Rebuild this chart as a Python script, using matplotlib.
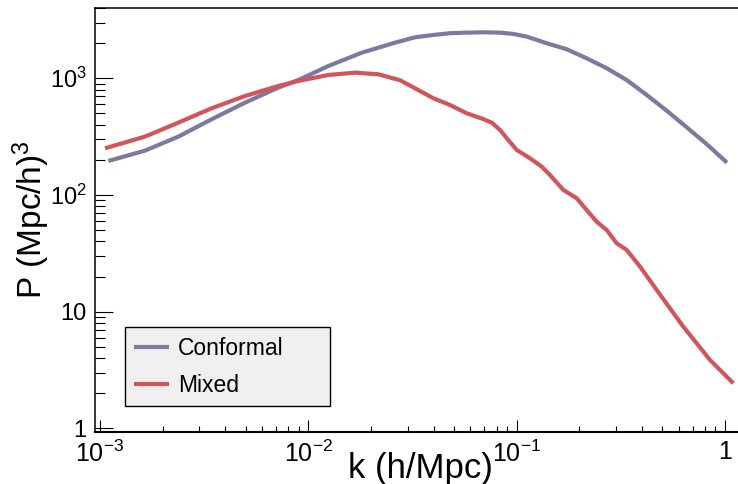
import numpy as np
import matplotlib
matplotlib.use("Agg")
import matplotlib.pyplot as plt
from matplotlib.ticker import FixedLocator, FixedFormatter, LogLocator, NullFormatter

plt.rcParams['font.family'] = ['Liberation Sans', 'DejaVu Sans']
plt.rcParams['mathtext.fontset'] = 'custom'
plt.rcParams['mathtext.rm'] = 'Liberation Sans'
plt.rcParams['mathtext.it'] = 'Liberation Sans:italic'

logk_conformal = [-2.960, -2.784, -2.624, -2.464, -2.304, -2.144, -2.048, -1.904,
                  -1.744, -1.584, -1.488, -1.400, -1.320, -1.240, -1.160, -1.080,
                  -1.016, -0.952, -0.856, -0.760, -0.664, -0.568, -0.472, -0.376,
                  -0.280, -0.184, -0.088, 0.009]
logp_conformal = [2.291, 2.380, 2.500, 2.649, 2.791, 2.920, 2.985, 3.105,
                  3.219, 3.305, 3.351, 3.371, 3.386, 3.391, 3.394, 3.391,
                  3.380, 3.357, 3.300, 3.249, 3.171, 3.086, 2.985, 2.857,
                  2.722, 2.580, 2.436, 2.277]

logk_mixed = [-2.976, -2.784, -2.624, -2.464, -2.304, -2.144, -2.048, -1.904,
              -1.776, -1.664, -1.560, -1.488, -1.400, -1.320, -1.240, -1.160,
              -1.120, -1.080, -1.040, -1.000, -0.936, -0.880, -0.840, -0.776,
              -0.712, -0.664, -0.616, -0.568, -0.520, -0.472, -0.408, -0.328,
              -0.200, -0.072, 0.040]
logp_mixed = [2.400, 2.500, 2.620, 2.743, 2.848, 2.934, 2.977, 3.028,
              3.048, 3.034, 2.983, 2.914, 2.829, 2.771, 2.700, 2.650,
              2.620, 2.557, 2.470, 2.386, 2.314, 2.243, 2.171, 2.043,
              1.972, 1.871, 1.771, 1.700, 1.586, 1.529, 1.386, 1.186,
              0.871, 0.586, 0.386]

labels = ['Conformal', 'Mixed']
colors = ['#7b7b9f', '#d0565b']

x_ticks = [1e-3, 1e-2, 1e-1, 1]
x_ticklabels = ['$10^{-3}$', '$10^{-2}$', '$10^{-1}$', '1']
y_ticks = [1, 10, 100, 1000]
y_ticklabels = ['1', '10', '$10^{2}$', '$10^{3}$']

fig = plt.figure(figsize=(7.38, 4.84), dpi=100)
ax = fig.add_axes([95 / 738, 52 / 484, 645 / 738, 424 / 484])

series = [(logk_conformal, logp_conformal), (logk_mixed, logp_mixed)]
for (lk, lp), lab, col in zip(series, labels, colors):
    ax.plot(10 ** np.array(lk), 10 ** np.array(lp), color=col, lw=3.0, label=lab,
            solid_joinstyle='round', solid_capstyle='butt')

ax.set_xscale('log')
ax.set_yscale('log')
ax.set_xlim(9.46e-4, 1.18)
ax.set_ylim(0.931, 4000)

ax.xaxis.set_major_locator(FixedLocator(x_ticks))
ax.xaxis.set_major_formatter(FixedFormatter(x_ticklabels))
ax.yaxis.set_major_locator(FixedLocator(y_ticks))
ax.yaxis.set_major_formatter(FixedFormatter(y_ticklabels))
ax.xaxis.set_minor_locator(LogLocator(base=10, subs=np.arange(2, 10), numticks=20))
ax.yaxis.set_minor_locator(LogLocator(base=10, subs=np.arange(2, 10), numticks=20))
ax.xaxis.set_minor_formatter(NullFormatter())
ax.yaxis.set_minor_formatter(NullFormatter())

ax.tick_params(axis='x', which='major', direction='in', length=8.6, width=0.8,
               labelsize=18, pad=6, top=False)
ax.tick_params(axis='x', which='minor', direction='in', length=4.3, width=0.8, top=False)
ax.tick_params(axis='y', which='major', direction='in', length=13, width=0.8,
               labelsize=17, pad=6, right=False)
ax.tick_params(axis='y', which='minor', direction='in', length=7, width=0.8, right=False)

for side in ['left', 'top', 'right']:
    ax.spines[side].set_linewidth(1.1)
ax.spines['bottom'].set_linewidth(1.5)

ax.set_xlabel('k (h/Mpc)', fontsize=25, ha='right', va='center')
ax.xaxis.set_label_coords(0.617, -0.087)
ax.set_ylabel('P (Mpc/h)$^{3}$', fontsize=24, va='center')
ax.yaxis.set_label_coords(-0.099, 0.5)

leg = ax.legend(loc='lower left', bbox_to_anchor=(0.0465, 0.0613, 0.318, 0.186),
                mode='expand', borderaxespad=0, fontsize=16.5, frameon=True,
                fancybox=False, handlelength=1.52, handletextpad=0.4,
                labelspacing=0.62, borderpad=0.4)
frame = leg.get_frame()
frame.set_facecolor('#f0f0f0')
frame.set_edgecolor('black')
frame.set_linewidth(1.0)
frame.set_alpha(1.0)

fig.savefig('out.png', dpi=100)
